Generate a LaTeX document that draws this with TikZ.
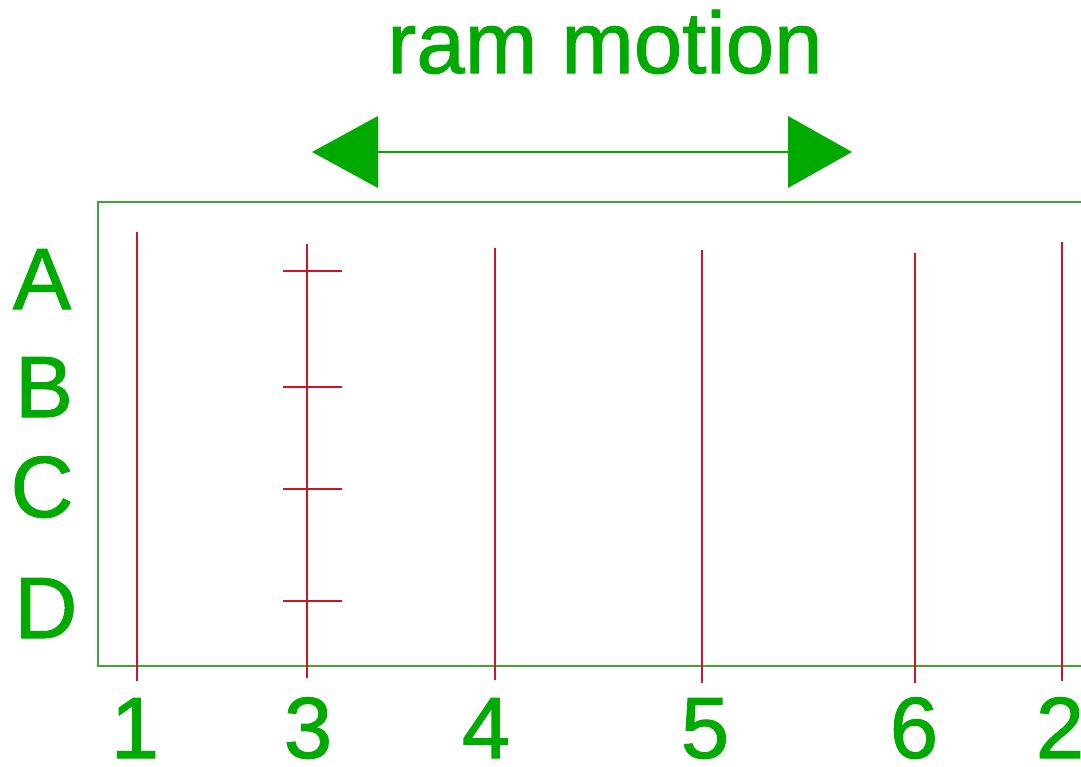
\documentclass[tikz,border=0pt]{standalone}
\usepackage{fontspec}
\setmainfont{Liberation Sans}[FakeBold=1.2,AutoFakeBold=1.2]
\newfontfamily\labelfont{Liberation Sans}[FakeBold=1.2]
\definecolor{txtgreen}{RGB}{0,170,0}
\definecolor{framegreen}{RGB}{60,165,60}
\definecolor{gridred}{RGB}{210,20,40}
\tikzset{
  biglabel/.style={text=txtgreen,inner sep=0pt,anchor=base,font=\labelfont\fontsize{87}{87}\selectfont},
  gridline/.style={draw=gridred,line width=1.1pt},
  frame/.style={draw=framegreen,line width=1.4pt},
  headtri/.style={fill=txtgreen,draw=none},
}
\begin{document}
\begin{tikzpicture}[x=1pt,y=-1pt]
\useasboundingbox (0,0) rectangle (1081,766);
% title
\node[biglabel] (title) at (605,73) {ram motion};
% double arrow
\coordinate (shaftL) at (378,152);
\coordinate (shaftR) at (788,152);
\draw[draw=txtgreen,line width=1.2pt] (shaftL) -- (shaftR);
\fill[headtri] (312,152) -- (378,116) -- (378,188) -- cycle;
\fill[headtri] (852,152) -- (788,116) -- (788,188) -- cycle;
% frame
\draw[frame] (1120,202) -- (98,202) -- (98,666) -- (1120,666);
% vertical grid lines
\draw[gridline] (137,232) -- (137,681);
\draw[gridline] (307,244) -- (307,678);
\draw[gridline] (495,248) -- (495,680);
\draw[gridline] (702,250) -- (702,683);
\draw[gridline] (915,253) -- (915,683);
\draw[gridline] (1062,242) -- (1062,681);
% ticks on line 3
\foreach \yy in {271,387,489,601}{
  \draw[gridline] (283,\yy) -- (342,\yy);
}
% row labels
\node[biglabel] (lA) at (42,309) {A};
\node[biglabel] (lB) at (44,417) {B};
\node[biglabel] (lC) at (42,517) {C};
\node[biglabel] (lD) at (46,638) {D};
% column labels
\node[biglabel] (c1) at (135,758) {1};
\node[biglabel] (c3) at (308,758) {3};
\node[biglabel] (c4) at (486,758) {4};
\node[biglabel] (c5) at (705,758) {5};
\node[biglabel] (c6) at (914,758) {6};
\node[biglabel] (c2) at (1060,758) {2};
\end{tikzpicture}
\end{document}
